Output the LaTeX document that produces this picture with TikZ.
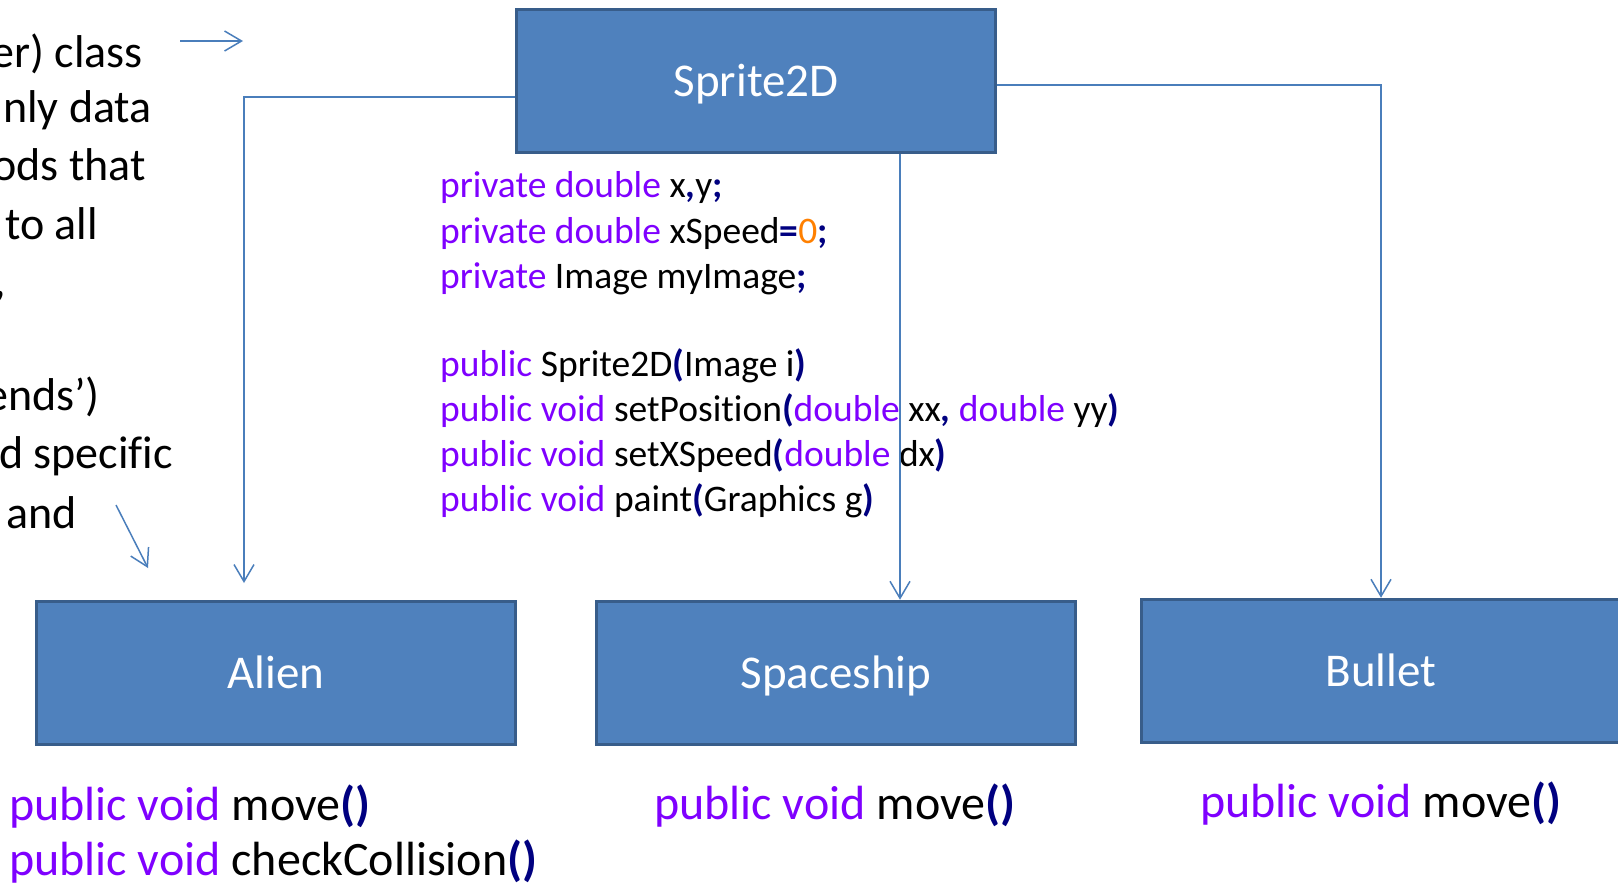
\documentclass[tikz,border=0pt]{standalone}
\usepackage{fontspec}
\setmainfont[Ligatures={NoCommon}]{Carlito}
\usetikzlibrary{arrows.meta}
\definecolor{boxfill}{HTML}{4F81BD}
\definecolor{boxline}{HTML}{385D8A}
\definecolor{connc}{HTML}{4A7EBB}
\definecolor{kwc}{HTML}{7F00FF}
\definecolor{pnc}{HTML}{000080}
\definecolor{numc}{HTML}{FF8000}
\newcommand{\kwd}[1]{\textcolor{kwc}{#1}}
\newcommand{\pnt}[1]{\textcolor{pnc}{\bfseries #1}}
\newcommand{\nmb}[1]{\textcolor{numc}{#1}}
\begin{document}
\begin{tikzpicture}[x=1pt,y=-1pt,
 classbox/.style={draw=boxline, line width=3.5pt, fill=boxfill, minimum width=479pt, minimum height=143pt, inner sep=0pt, text=white, font=\fontsize{47}{57}\selectfont, text height=30pt, text depth=0pt},
 connector/.style={draw=connc, line width=1.5pt, -{Straight Barb[length=17pt,width=20pt,line width=1.5pt]}},
 note/.style={font=\fontsize{46}{57}\selectfont, anchor=base east, inner sep=0pt},
 code/.style={font=\fontsize{37.5}{45}\selectfont, anchor=base west, inner sep=0pt},
 bigcode/.style={font=\fontsize{48}{55}\selectfont, anchor=base west, inner sep=0pt}]
\useasboundingbox (0,0) rectangle (1618,884);
\clip (0,0) rectangle (1618,884);
\fill[white] (0,0) rectangle (1618,884);

% left notes (cut off at the left edge)
\node[note] (n1) at (143,67) {er) class};
\node[note] (n2) at (152,122) {nly data};
\node[note] (n3) at (146,180) {ods that};
\node[note] (n4) at (98,239) {to all};
\node[note] (n5) at (6,296) {,};
\node[note] (n6) at (100,410) {ends’)};
\node[note] (n7) at (173,468) {d specific};
\node[note] (n8) at (77,528) {and};

% class boxes
\node[classbox] (sprite) at (756,81) {Sprite2D};
\node[classbox] (alien) at (276,673) {Alien};
\node[classbox] (spaceship) at (836,673) {Spaceship};
\node[classbox] (bullet) at (1381,671) {Bullet};

% Sprite2D members
\node[code] (c1) at (440,197) {\kwd{private double} x\pnt{,}y\pnt{;}};
\node[code] (c2) at (440,243) {\kwd{private double} xSpeed\pnt{=}\nmb{0}\pnt{;}};
\node[code] (c3) at (440,288) {\kwd{private} Image myImage\pnt{;}};
\node[code] (c4) at (440,376) {\kwd{public} Sprite2D\pnt{(}Image i\pnt{)}};
\node[code] (c5) at (440,421) {\kwd{public void} setPosition\pnt{(}\kwd{double} xx\pnt{,} \kwd{double} yy\pnt{)}};
\node[code] (c6) at (440,466) {\kwd{public void} setXSpeed\pnt{(}\kwd{double} dx\pnt{)}};
\node[code] (c7) at (440,511) {\kwd{public void} paint\pnt{(}Graphics g\pnt{)}};

% subclass members
\node[bigcode] (a1) at (9,820) {\kwd{public void} move\pnt{()}};
\node[bigcode] (a2) at (9,875) {\kwd{public void} checkCollision\pnt{()}};
\node[bigcode] (s1) at (654,819) {\kwd{public void} move\pnt{()}};
\node[bigcode] (b1) at (1200,817) {\kwd{public void} move\pnt{()}};

% connectors
\coordinate (alienTip) at (244,583);
\draw[connector] ([yshift=-16pt]sprite.west) -| (alienTip);
\draw[connector] ([xshift=144pt]sprite.south) -- ([xshift=64pt]spaceship.north);
\draw[connector] ([yshift=-4pt]sprite.east) -| (bullet.north);

% free arrows
\coordinate (p1s) at (180,41);
\coordinate (p1e) at (243,41);
\coordinate (p2s) at (116,505);
\coordinate (p2e) at (148,568);
\draw[connector] (p1s) -- (p1e);
\draw[connector] (p2s) -- (p2e);
\end{tikzpicture}
\end{document}
